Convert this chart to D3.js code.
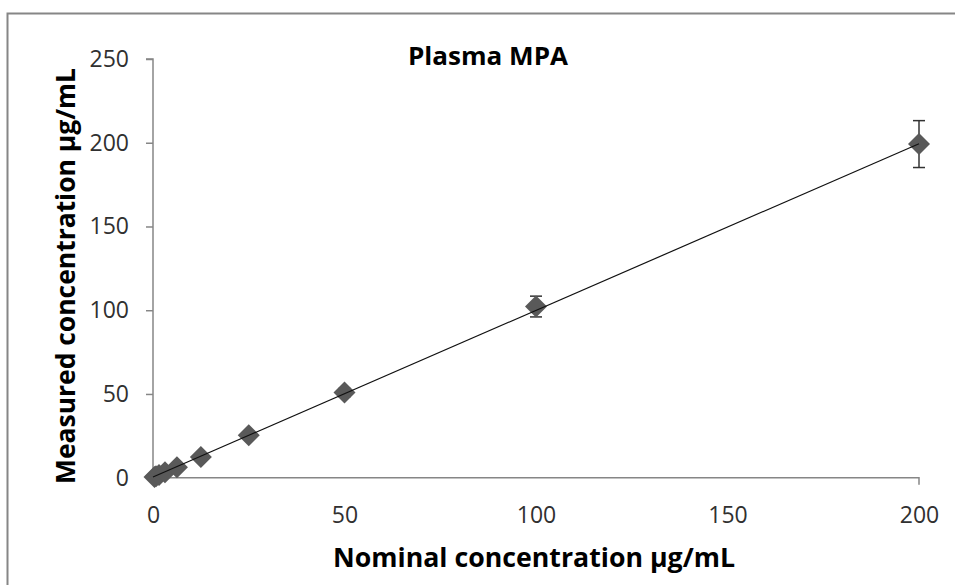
<!DOCTYPE html>
<html>
<head>
<meta charset="utf-8">
<script src="https://cdn.jsdelivr.net/npm/d3@7"></script>
<style>
  body { margin: 0; background: #fff; }
  svg { display: block; }
</style>
</head>
<body>
<div id="chart"></div>
<script>
// data
var nominal  = [0.39, 0.78, 1.56, 3.125, 6.25, 12.5, 25, 50, 100, 200];
var measured = [0.4, 0.8, 1.6, 3.2, 6.3, 12.4, 25.3, 50.8, 102.2, 199.2];
var errors   = [0.05, 0.1, 0.2, 0.3, 0.5, 1, 1.5, 2.5, 6.2, 14];
var xTicks = [0, 50, 100, 150, 200];
var yTicks = [0, 50, 100, 150, 200, 250];
var fitSlope = 0.995, fitIntercept = 0.4;

function init(){
    var w = 955, h = 585;
    var font = "'Open Sans', 'Noto Sans', sans-serif";

    var svg = d3.select("#chart")
                .append("svg")
                .attr("width", w)
                .attr("height", h);

    // chart border
    svg.append("rect")
        .attr("x", 7.5).attr("y", 13.5)
        .attr("width", 960).attr("height", 600)
        .attr("fill", "none")
        .attr("stroke", "#868686")
        .attr("stroke-width", 2);

    var xScale = d3.scaleLinear().domain([0, 200]).range([153, 919]);
    var yScale = d3.scaleLinear().domain([0, 250]).range([477.7, 59]);

    var xAxis = d3.axisBottom(xScale).tickValues(xTicks).tickSize(7).tickPadding(22);
    var yAxis = d3.axisLeft(yScale).tickValues(yTicks).tickSize(7).tickPadding(17);

    var gx = svg.append("g")
        .attr("transform", "translate(0," + yScale(0) + ")")
        .call(xAxis);
    var gy = svg.append("g")
        .attr("transform", "translate(" + xScale(0) + ",0)")
        .call(yAxis);

    [gx, gy].forEach(function(g){
        g.selectAll("path, line").attr("stroke", "#868686").attr("stroke-width", 1.5);
        g.selectAll("text")
            .attr("fill", "#303030")
            .attr("font-family", font)
            .attr("font-size", "23px");
    });
    gx.selectAll(".tick line").attr("y2", 0);
    gx.select(".domain").attr("d", "M" + xScale(0) + ",0H" + xScale(200) + "V7");
    gy.select(".domain").attr("d", "M-7," + yScale(250) + "H0V" + yScale(0));

    var pts = nominal.map(function(d, i){
        return { x: d, y: measured[i], e: errors[i] };
    });

    // error bars
    var eb = svg.selectAll(".err")
        .data(pts)
        .enter()
        .append("g")
        .attr("class", "err")
        .attr("stroke", "#333")
        .attr("stroke-width", 1.5);
    eb.append("line")
        .attr("x1", function(d){ return xScale(d.x); })
        .attr("x2", function(d){ return xScale(d.x); })
        .attr("y1", function(d){ return yScale(d.y + d.e); })
        .attr("y2", function(d){ return yScale(d.y - d.e); });
    eb.append("line")
        .attr("x1", function(d){ return xScale(d.x) - 6; })
        .attr("x2", function(d){ return xScale(d.x) + 6; })
        .attr("y1", function(d){ return yScale(d.y + d.e); })
        .attr("y2", function(d){ return yScale(d.y + d.e); });
    eb.append("line")
        .attr("x1", function(d){ return xScale(d.x) - 6; })
        .attr("x2", function(d){ return xScale(d.x) + 6; })
        .attr("y1", function(d){ return yScale(d.y - d.e); })
        .attr("y2", function(d){ return yScale(d.y - d.e); });

    // diamonds
    svg.selectAll(".pt")
        .data(pts)
        .enter()
        .append("path")
        .attr("class", "pt")
        .attr("d", "M0,-11L11,0L0,11L-11,0Z")
        .attr("transform", function(d){
            return "translate(" + xScale(d.x) + "," + yScale(d.y) + ")";
        })
        .attr("fill", "#595959");

    // regression line, drawn over the markers
    svg.append("line")
        .attr("x1", xScale(0)).attr("y1", yScale(fitIntercept))
        .attr("x2", xScale(200)).attr("y2", yScale(fitIntercept + fitSlope * 200))
        .attr("stroke", "#111")
        .attr("stroke-width", 1.2);

    // titles
    svg.append("text")
        .text("Plasma MPA")
        .attr("x", 488).attr("y", 65)
        .attr("text-anchor", "middle")
        .attr("textLength", 160)
        .attr("lengthAdjust", "spacingAndGlyphs")
        .attr("font-family", font)
        .attr("font-weight", "bold")
        .attr("font-size", "25px")
        .attr("fill", "#000");

    svg.append("text")
        .text("Nominal concentration µg/mL")
        .attr("x", 534).attr("y", 567)
        .attr("text-anchor", "middle")
        .attr("textLength", 402)
        .attr("lengthAdjust", "spacingAndGlyphs")
        .attr("font-family", font)
        .attr("font-weight", "bold")
        .attr("font-size", "27px")
        .attr("fill", "#000");

    svg.append("text")
        .text("Measured concentration µg/mL")
        .attr("transform", "translate(75,276) rotate(-90)")
        .attr("text-anchor", "middle")
        .attr("textLength", 416)
        .attr("lengthAdjust", "spacingAndGlyphs")
        .attr("font-family", font)
        .attr("font-weight", "bold")
        .attr("font-size", "27px")
        .attr("fill", "#000");
}

window.onload = init;
</script>
</body>
</html>
